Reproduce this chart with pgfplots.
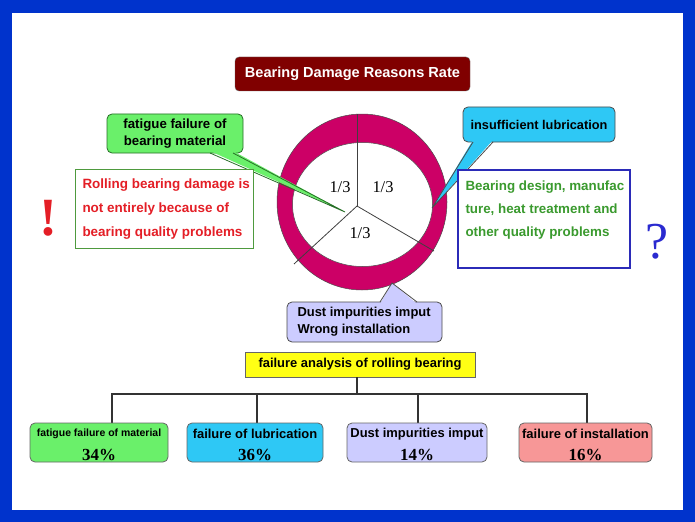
\documentclass[border=0pt]{standalone}
\usepackage{pgfplots}
\pgfplotsset{compat=1.18}
\usepackage{fontspec}
\setmainfont{Liberation Sans}
\newfontfamily\serif{Liberation Serif}
\definecolor{frameblue}{RGB}{0,51,204}
\definecolor{titlered}{RGB}{128,0,0}
\definecolor{ringc}{RGB}{204,0,102}
\definecolor{gfill}{RGB}{106,240,106}
\definecolor{gedge}{RGB}{40,110,40}
\definecolor{cfill}{RGB}{46,200,245}
\definecolor{lfill}{RGB}{204,204,255}
\definecolor{pfill}{RGB}{247,151,151}
\definecolor{yfill}{RGB}{255,255,20}
\definecolor{redtxt}{RGB}{228,30,38}
\definecolor{greentxt}{RGB}{58,154,46}
\definecolor{greenedge}{RGB}{78,154,62}
\definecolor{blueedge}{RGB}{43,43,184}
\definecolor{qblue}{RGB}{42,42,208}
\begin{document}
\begin{tikzpicture}
\begin{axis}[
  scale only axis, width=695bp, height=522bp,
  xmin=0, xmax=695, ymin=0, ymax=522, y dir=reverse,
  axis lines=none, xtick=\empty, ytick=\empty, clip=false]
% frame
\fill[frameblue] (axis cs:0,0) rectangle (axis cs:695,522);
\fill[white] (axis cs:12,13) rectangle (axis cs:683,510);
% title
\draw[black!60, fill=titlered, rounded corners=4bp] (axis cs:235,57) rectangle (axis cs:470,91);
\node[white, font=\bfseries\fontsize{14.6}{17}\selectfont] at (axis cs:352.5,74) {Bearing Damage Reasons Rate};
% ring
\fill[ringc, draw=black!70, line width=0.5bp] (axis cs:362,202) ellipse [x radius=85bp, y radius=88bp];
\fill[white, draw=black!70, line width=0.5bp] (axis cs:362.5,204.5) ellipse [x radius=70bp, y radius=62bp];
\draw[black!75, line width=0.8bp] (axis cs:357,206) -- (axis cs:357,114);
\draw[black!75, line width=0.8bp] (axis cs:357,206) -- (axis cs:294,264);
\draw[black!75, line width=0.8bp] (axis cs:357,206) -- (axis cs:434,251);
\node[font=\serif\fontsize{16.5}{18}\selectfont] at (axis cs:340,187) {1/3};
\node[font=\serif\fontsize{16.5}{18}\selectfont] at (axis cs:383,187) {1/3};
\node[font=\serif\fontsize{16.5}{18}\selectfont] at (axis cs:360,233) {1/3};
% green callout
\draw[gedge, fill=gfill, rounded corners=5bp, line width=0.8bp] (axis cs:107,114) rectangle (axis cs:243,153);
\fill[gfill] (axis cs:210,151) -- (axis cs:345,212) -- (axis cs:233,151) -- cycle;
\draw[gedge, line width=0.8bp] (axis cs:210,153) -- (axis cs:345,212) -- (axis cs:233,153);
\node[align=center, font=\bfseries\fontsize{13.3}{17}\selectfont] at (axis cs:175,133.5) {fatigue failure of\\bearing material};
% red text box
\draw[greenedge, fill=white, line width=1bp] (axis cs:75,169) rectangle (axis cs:253,248);
\node[anchor=west, align=left, text=redtxt, font=\bfseries\fontsize{13.5}{24}\selectfont] at (axis cs:79,209) {Rolling bearing damage is\\not entirely because of\\bearing quality problems};
\node[text=redtxt, font=\serif\bfseries\fontsize{54}{54}\selectfont] at (axis cs:48,218) {!};
% cyan callout
\draw[black!70, fill=cfill, rounded corners=5bp, line width=0.8bp] (axis cs:463,107) rectangle (axis cs:615,142);
\fill[cfill] (axis cs:473,140) -- (axis cs:432,208) -- (axis cs:493,140) -- cycle;
\draw[black!70, line width=0.8bp] (axis cs:473,142) -- (axis cs:432,208) -- (axis cs:493,142);
\node[font=\bfseries\fontsize{12.8}{15}\selectfont] at (axis cs:539,124.5) {insufficient lubrication};
% blue box
\draw[blueedge, fill=white, line width=1.2bp] (axis cs:458,170) rectangle (axis cs:630,268);
\node[anchor=west, align=left, text=greentxt, font=\bfseries\fontsize{13.4}{23}\selectfont] at (axis cs:462,210) {Bearing design, manufac\\ture, heat treatment and\\other quality problems};
\node[text=qblue, font=\serif\fontsize{52}{52}\selectfont] at (axis cs:657,242) {?};
% lavender callout
\draw[black!70, fill=lfill, rounded corners=5bp, line width=0.8bp] (axis cs:287,302) rectangle (axis cs:442,342);
\fill[lfill] (axis cs:380,304) -- (axis cs:392,283) -- (axis cs:417,304) -- cycle;
\draw[black!70, line width=0.8bp] (axis cs:380,302) -- (axis cs:392,283) -- (axis cs:417,302);
\node[anchor=west, align=left, font=\bfseries\fontsize{13}{17}\selectfont] at (axis cs:294,321.5) {Dust impurities imput\\Wrong installation};
% yellow box
\draw[black!60, fill=yfill, line width=0.8bp] (axis cs:245,352) rectangle (axis cs:475,377);
\node[font=\bfseries\fontsize{13}{15}\selectfont] at (axis cs:360,364.5) {failure analysis of rolling bearing};
% tree connectors
\addplot[black!80, line width=1.2bp] coordinates {(357,377) (357,394)};
\addplot[black!80, line width=1.2bp] coordinates {(112,423) (112,394) (587,394) (587,423)};
\addplot[black!80, line width=1.2bp] coordinates {(257,394) (257,423)};
\addplot[black!80, line width=1.2bp] coordinates {(418,394) (418,423)};
% bottom boxes
\draw[black!60, fill=gfill, rounded corners=5bp, line width=0.8bp] (axis cs:30,423) rectangle (axis cs:168,462);
\node[font=\bfseries\fontsize{10.5}{12}\selectfont] at (axis cs:99,434) {fatigue failure of material};
\node[font=\serif\bfseries\fontsize{17}{19}\selectfont] at (axis cs:99,455) {34\%};
\draw[black!60, fill=cfill, rounded corners=5bp, line width=0.8bp] (axis cs:187,423) rectangle (axis cs:323,462);
\node[font=\bfseries\fontsize{13}{15}\selectfont] at (axis cs:255,434) {failure of lubrication};
\node[font=\serif\bfseries\fontsize{17}{19}\selectfont] at (axis cs:255,455) {36\%};
\draw[black!60, fill=lfill, rounded corners=5bp, line width=0.8bp] (axis cs:347,423) rectangle (axis cs:487,462);
\node[font=\bfseries\fontsize{13}{15}\selectfont] at (axis cs:417,434) {Dust impurities imput};
\node[font=\serif\bfseries\fontsize{17}{19}\selectfont] at (axis cs:417,455) {14\%};
\draw[black!60, fill=pfill, rounded corners=5bp, line width=0.8bp] (axis cs:519,423) rectangle (axis cs:652,462);
\node[font=\bfseries\fontsize{13}{15}\selectfont] at (axis cs:585.5,434) {failure of installation};
\node[font=\serif\bfseries\fontsize{17}{19}\selectfont] at (axis cs:585.5,455) {16\%};
\end{axis}
\end{tikzpicture}
\end{document}
